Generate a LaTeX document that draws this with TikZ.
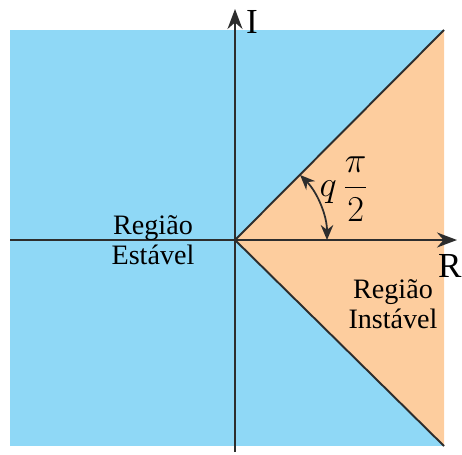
\documentclass[tikz,border=0pt]{standalone}
\usepackage{amsmath}
\usepackage{fontspec}
\setmainfont{Liberation Serif}
\newfontfamily\timesfont{Liberation Serif}
\usepackage{tikz}
\usetikzlibrary{arrows.meta, calc, positioning}
\definecolor{myblue}{RGB}{143, 216, 246}
\definecolor{myorange}{RGB}{253, 205, 158}
\definecolor{mygray}{RGB}{45, 45, 45}
\tikzstyle{axis} = [line width=1.1pt, mygray, -{Stealth[length=4mm,width=3mm]}]
\tikzstyle{edge} = [line width=1.1pt, mygray]
\tikzstyle{label} = [font=\timesfont\fontsize{16}{17}\selectfont, align=center, inner sep=0pt]

\begin{document}
\begin{tikzpicture}[x=0.02cm, y=0.02cm]
\useasboundingbox (0,0) rectangle (462,454);

% regions
\fill[myblue] (10,8) rectangle (444,424);
\coordinate (O) at (235,214);
\coordinate (top) at (444,424);
\coordinate (bot) at (444,8);
\fill[myorange] (O) -- (top) -- (bot) -- cycle;

% axes
\coordinate (ybot) at (235,2);
\coordinate (ytop) at (235,445);
\coordinate (xleft) at (10,214);
\coordinate (xright) at (457,214);
\draw[axis] (ybot) -- (ytop);
\draw[axis] (xleft) -- (xright);
\node[label, font=\timesfont\fontsize{20}{22}\selectfont] (imag) at (252,432) {I};
\node[label, font=\timesfont\fontsize{20}{22}\selectfont, anchor=east] (real) at (462,188) {R};

% boundary lines
\draw[edge] (O) -- (top);
\draw[edge] (O) -- (bot);

% angle
\coordinate (arcA) at ($(O)+(45:92)$);
\coordinate (arcB) at ($(O)+(0:92)$);
\draw[
    line width=1pt,
    mygray,
    {Stealth[length=3mm,width=2.5mm]}-{Stealth[length=3mm,width=2.5mm]}
] (arcA) arc[start angle=45, end angle=0, radius=92];
\node[
    label,
    font=\fontsize{21}{24}\selectfont
] (ang) at (344,265) {$q\,\dfrac{\pi}{2}$};

% texts
\node[label] (stable) at (153,214) {Região\\Estável};
\node[label] (unstable) at (393,150) {Região\\Instável};

\end{tikzpicture}
\end{document}
